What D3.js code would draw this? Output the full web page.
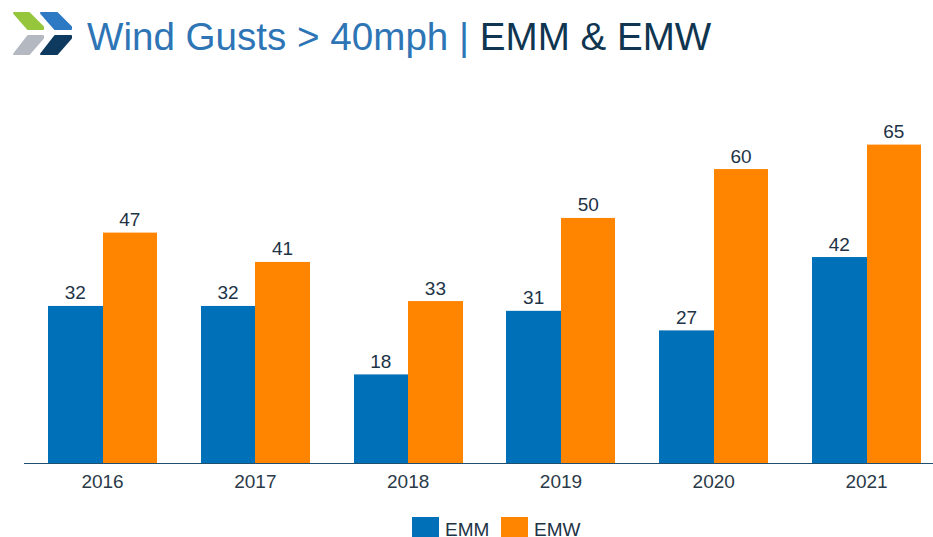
<!DOCTYPE html>
<html><head><meta charset="utf-8">
<script src="https://cdn.jsdelivr.net/npm/d3@7"></script>
<style>html,body{margin:0;padding:0;background:#fff;overflow:hidden}text{font-family:"Liberation Sans",Arial,sans-serif}</style>
</head><body><svg id="c" width="933" height="537"></svg>
<script>
const years = ["2016","2017","2018","2019","2020","2021"];
const seriesNames = ["EMM","EMW"];
const emm = [32,32,18,31,27,42];
const emw = [47,41,33,50,60,65];
const seriesColors = ["#0070b8","#ff8500"];
const titleParts = [["Wind Gusts > 40mph | ","#2e75b6"],["EMM & EMW","#0f3550"]];

const svg = d3.select("#c");
const baseY = 463;
const x = d3.scaleBand().domain(years).range([26.15,942.95]).paddingInner(0.286).paddingOuter(0.143);
const x1 = d3.scaleBand().domain(seriesNames).range([0,x.bandwidth()]);
const y = d3.scaleLinear().domain([0,65]).range([462.4,144.6]);
const color = d3.scaleOrdinal(seriesNames,seriesColors);

// logo
const logo = [
 ["#96c63c","M14 13H29L43 27V29H28Z"],
 ["#2e79c4","M41 13H57L71 27V29H55Z"],
 ["#b4b8c0","M28 36H43V38L29 54H14Z"],
 ["#0f3a5f","M55 36H71V38L57 54H41Z"]];
svg.selectAll("path.logo").data(logo).join("path").attr("class","logo")
 .attr("fill",d=>d[0]).attr("stroke",d=>d[0]).attr("stroke-width",2).attr("stroke-linejoin","round").attr("d",d=>d[1]);

// title
const t = svg.append("text").attr("x",87).attr("y",50).attr("font-size",38.6);
t.selectAll("tspan").data(titleParts).join("tspan").attr("fill",d=>d[1]).style("white-space","pre").text(d=>d[0]);

// bars
const rows = seriesNames.flatMap((s,i)=>years.map((yr,j)=>({s,yr,v:(i?emw:emm)[j]})));
const bx = d=>x(d.yr)+x1(d.s);
svg.selectAll("rect.bar").data(rows).join("rect").attr("class","bar")
 .attr("x",d=>Math.round(bx(d))).attr("width",d=>Math.round(bx(d)+x1.bandwidth())-Math.round(bx(d)))
 .attr("y",d=>y(d.v)).attr("height",d=>baseY-y(d.v)).attr("fill",d=>color(d.s));
svg.selectAll("text.val").data(rows).join("text").attr("class","val")
 .attr("x",d=>bx(d)+x1.bandwidth()/2).attr("y",d=>y(d.v)-6.5)
 .attr("text-anchor","middle").attr("font-size",19).attr("fill","#1d3346").text(d=>d.v);

// axis
const ax = svg.append("g").attr("transform",`translate(0,${baseY})`).call(d3.axisBottom(x).tickSize(0).tickPadding(9));
ax.select(".domain").attr("stroke","#1f4e6e").attr("stroke-width",1.2).attr("d","M24,0.5H933");
ax.selectAll("text").attr("font-size",19).attr("fill","#2b3a48").attr("dy","0.85em").style("font-family",'"Liberation Sans",Arial,sans-serif');

// legend
const lx = d3.scaleOrdinal(seriesNames,[412,501]);
svg.selectAll("rect.leg").data(seriesNames).join("rect").attr("class","leg")
 .attr("x",d=>lx(d)).attr("y",517).attr("width",27).attr("height",20).attr("fill",d=>color(d));
svg.selectAll("text.leg").data(seriesNames).join("text").attr("class","leg")
 .attr("x",d=>lx(d)+33).attr("y",536).attr("font-size",19).attr("fill","#1d3346").text(d=>d);
</script></body></html>
